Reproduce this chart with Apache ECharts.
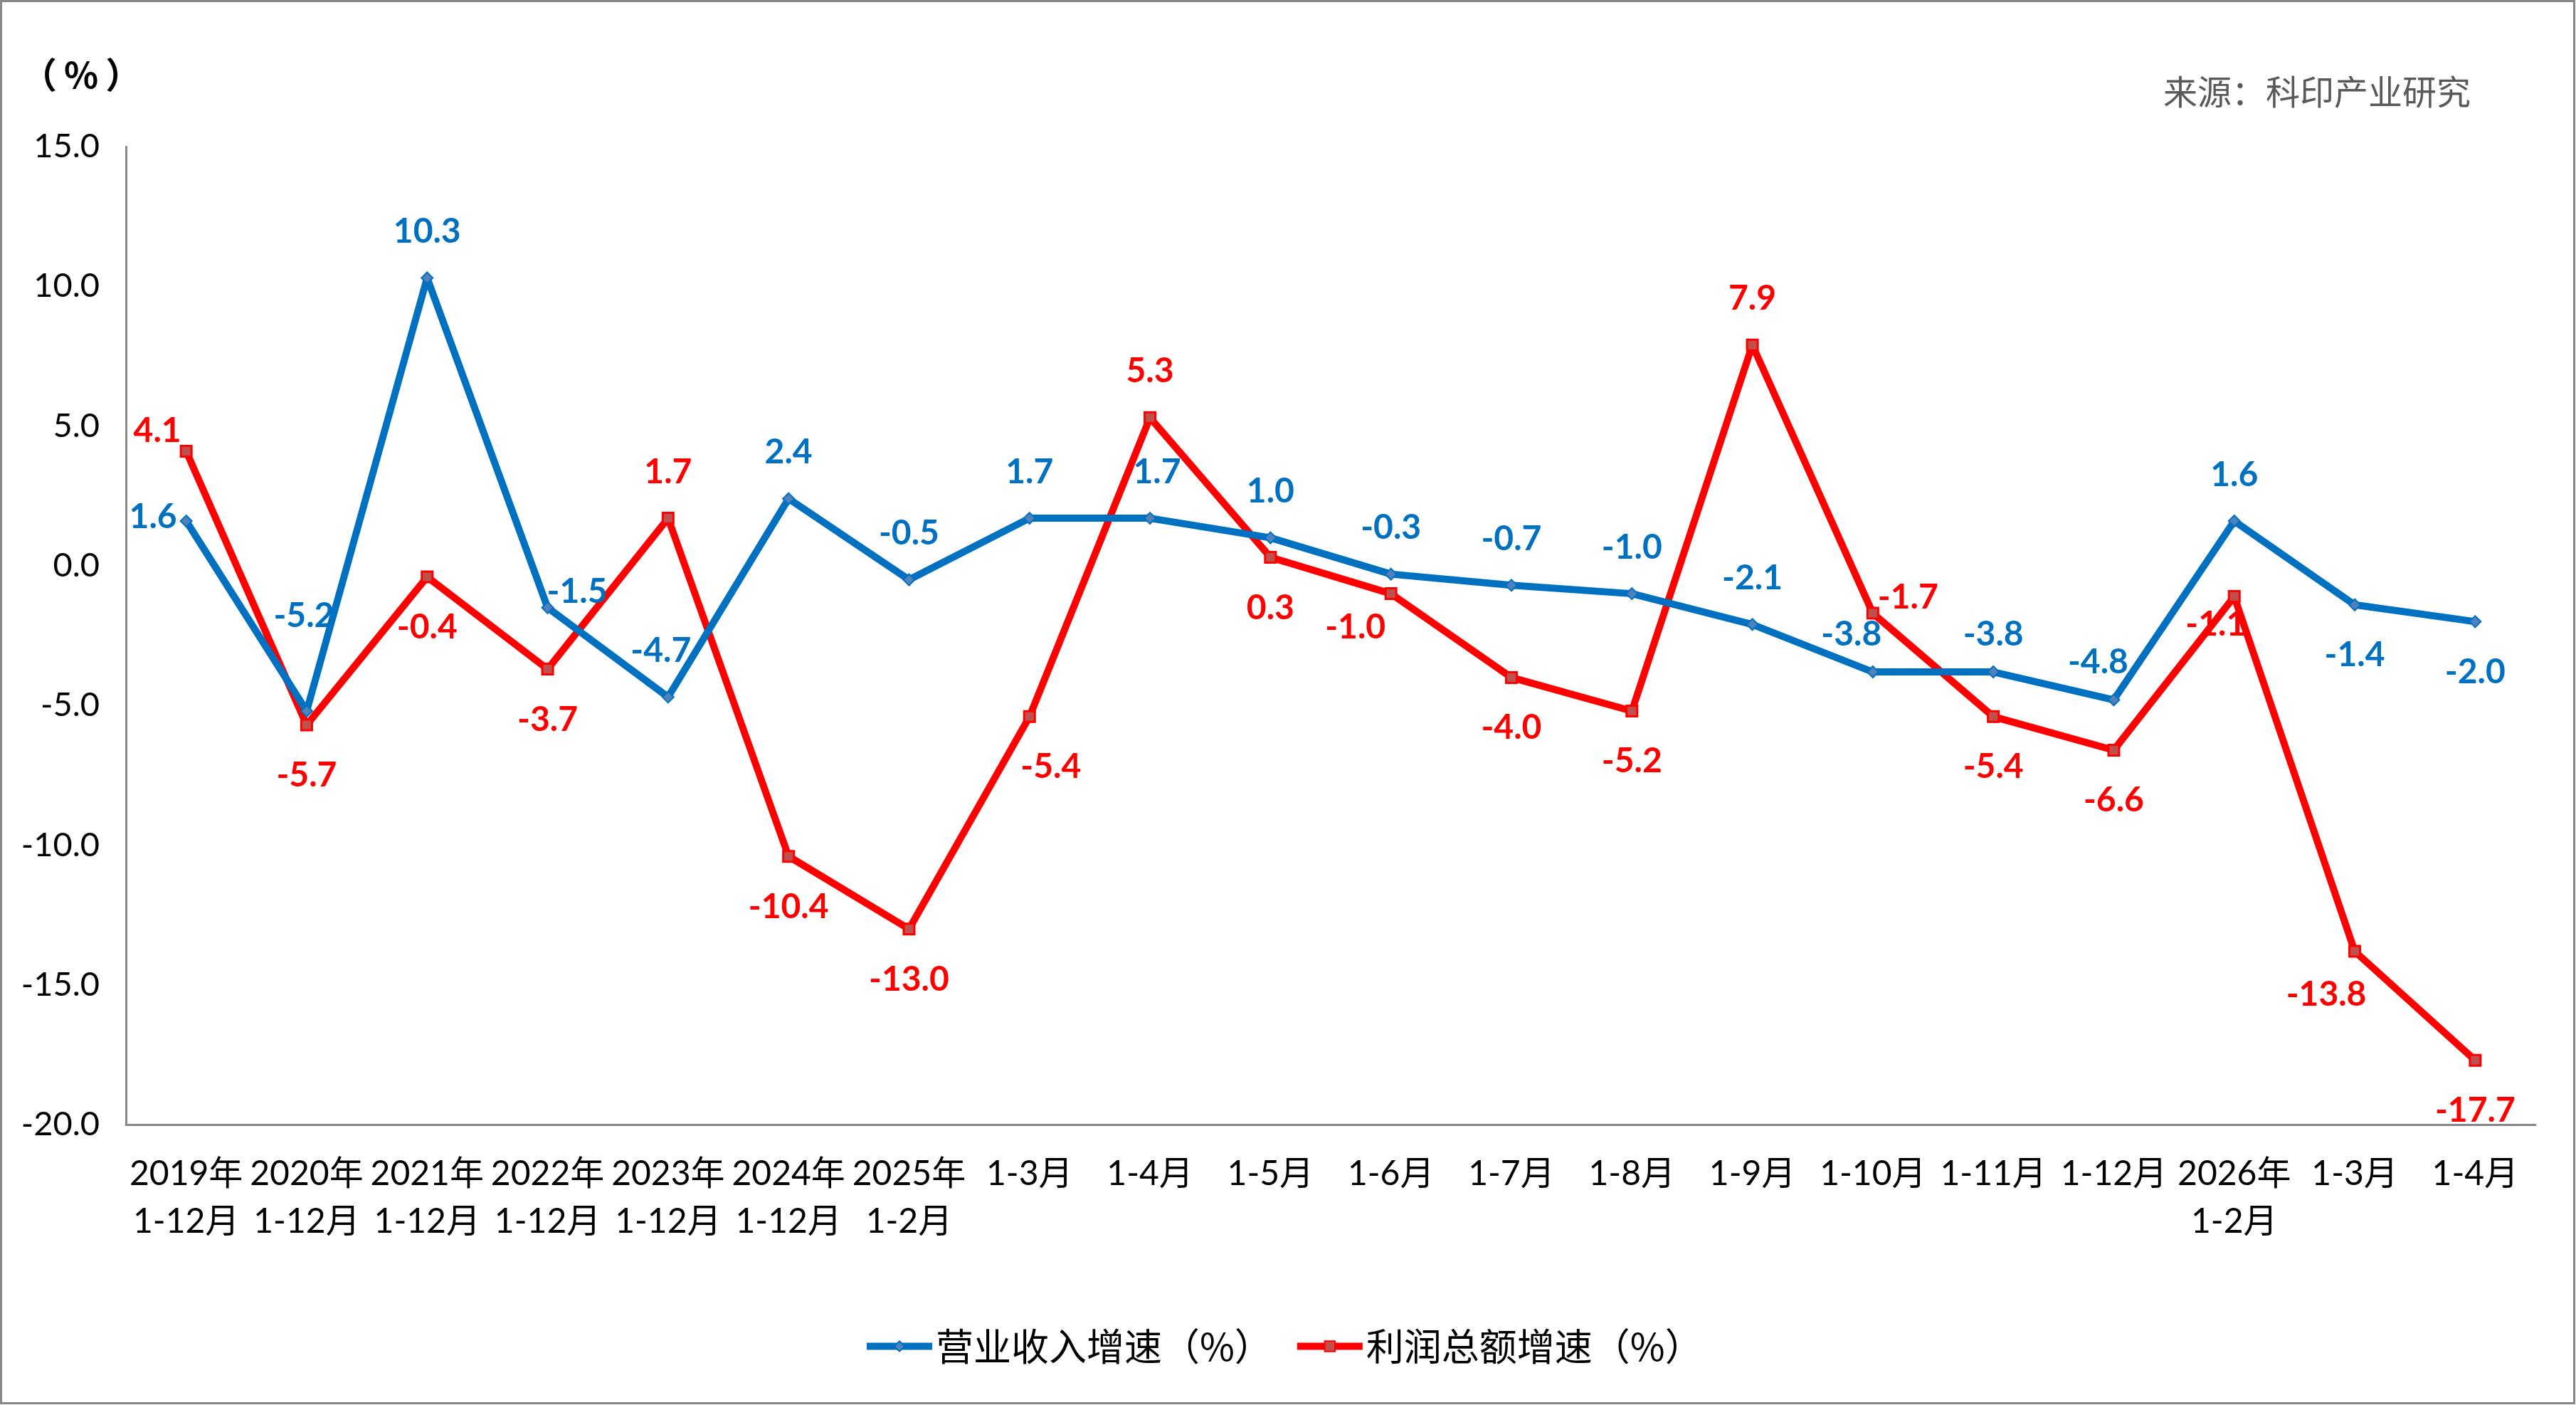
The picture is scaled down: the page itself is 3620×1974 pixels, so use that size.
<!DOCTYPE html>
<html lang="zh-CN">
<head>
  <meta charset="UTF-8" />
  <title>营业收入与利润总额增速</title>
  <style>
    html, body { margin: 0; padding: 0; background: #fff }
    #chart { width: 3620px; height: 1974px }
  </style>
  <script src="https://cdn.jsdelivr.net/npm/echarts@6/dist/echarts.min.js"></script>
</head>
<body>
  <div id="chart"></div>
  <script>
    // 数据
    const categories = [
      '2019年\n1-12月', '2020年\n1-12月', '2021年\n1-12月', '2022年\n1-12月',
      '2023年\n1-12月', '2024年\n1-12月', '2025年\n1-2月', '1-3月', '1-4月',
      '1-5月', '1-6月', '1-7月', '1-8月', '1-9月', '1-10月', '1-11月', '1-12月',
      '2026年\n1-2月', '1-3月', '1-4月'
    ];
    const revenueGrowth = [1.6, -5.2, 10.3, -1.5, -4.7, 2.4, -0.5, 1.7, 1.7, 1.0, -0.3, -0.7, -1.0, -2.1, -3.8, -3.8, -4.8, 1.6, -1.4, -2.0];
    const profitGrowth = [4.1, -5.7, -0.4, -3.7, 1.7, -10.4, -13.0, -5.4, 5.3, 0.3, -1.0, -4.0, -5.2, 7.9, -1.7, -5.4, -6.6, -1.1, -13.8, -17.7];
    const yTicks = [-20, -15, -10, -5, 0, 5, 10, 15];

    // 标签位置（默认上/下）
    const revLabelPos = { 0: 'left', 3: 'right', 18: 'bottom', 19: 'bottom' };
    const revLabelOffset = { 0: [0, -6], 1: [-4, -68], 3: [-14, -22], 4: [-10, 0], 8: [10, 0], 14: [-30, 12], 15: [0, 12], 16: [-22, 12] };
    const profitLabelPos = { 0: 'left', 4: 'top', 8: 'top', 13: 'top', 14: 'right' };
    const profitLabelOffset = { 0: [6, -28], 7: [30, 0], 10: [-50, -24], 14: [-6, -22], 17: [-26, -32], 18: [-40, -10] };

    const FONT = 'Lato, "Noto Sans CJK SC", sans-serif';
    const CJK = '"Noto Sans CJK SC", sans-serif';
    const BLUE = '#0070C0';
    const RED = '#FF0000';

    function labelFor(pos, color, offset) {
      const lab = {
        show: true,
        position: pos,
        distance: pos === 'left' || pos === 'right' ? 4 : (pos === 'top' ? 32 : 38),
        color: color,
        fontFamily: FONT,
        fontWeight: 'bold',
        fontSize: 48,
        formatter: p => p.value.toFixed(1)
      };
      if (offset) lab.offset = offset;
      return lab;
    }

    const revData = revenueGrowth.map((v, i) => ({
      value: v,
      label: labelFor(revLabelPos[i] || 'top', BLUE, revLabelOffset[i])
    }));
    const profitData = profitGrowth.map((v, i) => ({
      value: v,
      label: labelFor(profitLabelPos[i] || 'bottom', RED, profitLabelOffset[i])
    }));

    const chart = echarts.init(document.getElementById('chart'));
    chart.setOption({
      backgroundColor: '#fff',
      animation: false,
      textStyle: { fontFamily: FONT },
      grid: { left: 177, right: 57, top: 206, bottom: 394 },
      legend: {
        left: 1208,
        top: 1860,
        itemWidth: 92,
        itemHeight: 18,
        itemGap: 30,
        textStyle: { fontSize: 53, color: '#000', fontFamily: CJK },
        lineStyle: { width: 10 },
        data: ['营业收入增速（%）', '利润总额增速（%）']
      },
      graphic: [
        {
          type: 'rect',
          shape: { x: 1.5, y: 1.5, width: 3616, height: 1970 },
          style: { fill: 'none', stroke: '#888', lineWidth: 3 },
          silent: true
        },
        {
          type: 'text', left: 30, top: 80,
          style: {
            text: '{p|（}{c|%}{p|）}',
            rich: {
              p: { fontSize: 50, fontWeight: 'bold', fill: '#000', fontFamily: CJK },
              c: { fontSize: 50, fontWeight: 'bold', fill: '#000', fontFamily: CJK, padding: [0, 10] }
            }
          }
        },
        {
          type: 'text', left: 3040, top: 105,
          style: { text: '来源：科印产业研究', fontSize: 48, fill: '#595959', fontFamily: CJK }
        }
      ],
      xAxis: [
        {
          type: 'category',
          data: categories,
          boundaryGap: true,
          axisLine: { show: false },
          axisTick: { show: false },
          axisLabel: {
            interval: 0,
            margin: 36,
            fontSize: 48,
            lineHeight: 67,
            color: '#000',
            fontFamily: FONT
          }
        },
        {
          type: 'category',
          data: categories,
          position: 'bottom',
          axisLine: { show: true, onZero: true, lineStyle: { color: '#888', width: 3 } },
          axisTick: { show: false },
          axisLabel: { show: false }
        }
      ],
      yAxis: {
        type: 'value',
        min: yTicks[0],
        max: yTicks[yTicks.length - 1],
        interval: 5,
        axisLine: { show: true, lineStyle: { color: '#888', width: 3 } },
        axisTick: { show: false },
        splitLine: { show: false },
        axisLabel: {
          margin: 37,
          fontSize: 47,
          color: '#000',
          fontFamily: FONT,
          formatter: v => v.toFixed(1)
        }
      },
      series: [
        {
          name: '营业收入增速（%）',
          type: 'line',
          data: revData,
          symbol: 'diamond',
          symbolSize: 16,
          lineStyle: { color: BLUE, width: 10 },
          itemStyle: { color: '#4F81BD', borderColor: BLUE, borderWidth: 2 },
          z: 3
        },
        {
          name: '利润总额增速（%）',
          type: 'line',
          data: profitData,
          symbol: 'rect',
          symbolSize: 15,
          lineStyle: { color: RED, width: 10 },
          itemStyle: { color: '#C0504D', borderColor: RED, borderWidth: 3 },
          z: 2
        }
      ]
    });
  </script>
</body>
</html>
